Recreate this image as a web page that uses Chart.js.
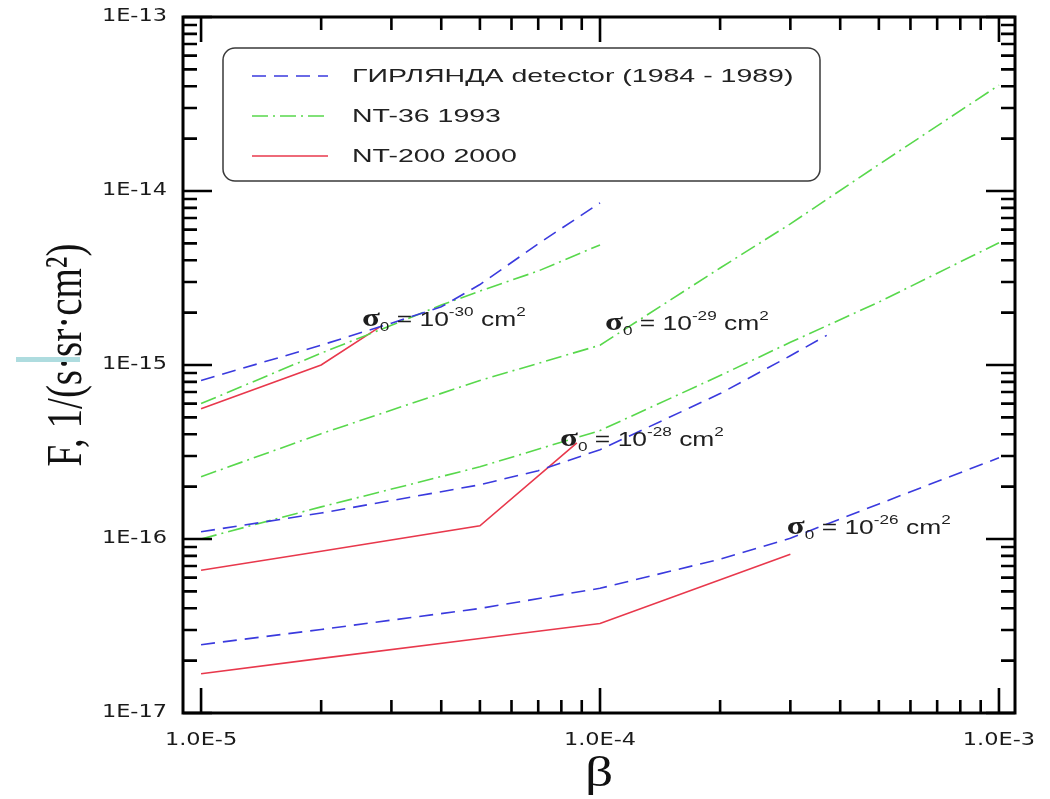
<!DOCTYPE html>
<html>
<head>
<meta charset="utf-8">
<title>F vs β</title>
<script src="https://cdn.jsdelivr.net/npm/chart.js@4.4.1/dist/chart.umd.min.js"></script>
<style>
  html, body { margin: 0; padding: 0; background: #fff; }
  #wrap { width: 1050px; height: 799px; }
</style>
</head>
<body>
<div id="wrap"><canvas id="chartFlux"></canvas></div>
<script>
// flux limits F, 1/(s·sr·cm²) vs β, one curve per detector and σ0
const garland30X = [1e-5, 2e-5, 3e-5, 4e-5, 5e-5, 7e-5, 1e-4];
const garland30Y = [8.15e-16, 1.30e-15, 1.74e-15, 2.16e-15, 2.90e-15, 4.97e-15, 8.55e-15];
const nt36_30X = [1e-5, 2e-5, 3e-5, 4e-5, 5e-5, 7e-5, 1e-4];
const nt36_30Y = [6.0e-16, 1.17e-15, 1.69e-15, 2.21e-15, 2.66e-15, 3.47e-15, 4.9e-15];
const nt200_30X = [1e-5, 2e-5, 2.8e-5];
const nt200_30Y = [5.6e-16, 1.0e-15, 1.65e-15];

const nt36_29X = [1e-5, 2e-5, 5e-5, 1e-4, 2e-4, 3e-4, 5e-4, 1e-3];
const nt36_29Y = [2.28e-16, 4.03e-16, 8.15e-16, 1.30e-15, 3.61e-15, 6.47e-15, 1.42e-14, 4.06e-14];

const garland28X = [1e-5, 2e-5, 4e-5, 5e-5, 7e-5, 1e-4, 2e-4, 3e-4, 3.7e-4];
const garland28Y = [1.10e-16, 1.41e-16, 1.87e-16, 2.05e-16, 2.47e-16, 3.26e-16, 6.85e-16, 1.13e-15, 1.48e-15];
const nt36_28X = [1e-5, 2e-5, 5e-5, 1e-4, 2e-4, 3e-4, 5e-4, 1e-3];
const nt36_28Y = [1.0e-16, 1.53e-16, 2.60e-16, 4.2e-16, 8.7e-16, 1.35e-15, 2.30e-15, 5.04e-15];
const nt200_28X = [1e-5, 2e-5, 5e-5, 8.75e-5];
const nt200_28Y = [6.62e-17, 8.5e-17, 1.19e-16, 3.57e-16];

const garland26X = [1e-5, 2e-5, 5e-5, 1e-4, 2e-4, 3e-4, 5e-4, 1e-3];
const garland26Y = [2.47e-17, 3.02e-17, 3.99e-17, 5.21e-17, 7.66e-17, 1.01e-16, 1.59e-16, 2.93e-16];
const nt200_26X = [1e-5, 2e-5, 5e-5, 1e-4, 3e-4];
const nt200_26Y = [1.68e-17, 2.06e-17, 2.68e-17, 3.27e-17, 8.18e-17];

// σ0 labels placed at (β, F)
const sigmaExp = ['-30', '-29', '-28', '-26'];
const sigmaX = [2.53e-5, 1.029e-4, 7.94e-5, 2.94e-4];
const sigmaY = [1.67e-15, 1.58e-15, 3.44e-16, 1.07e-16];

const legendLabels = ['ГИРЛЯНДА detector (1984 - 1989)', 'NT-36 1993', 'NT-200 2000'];

const xDecades = [1e-5, 1e-4, 1e-3];
const xTickLabels = ['1.0E-5', '1.0E-4', '1.0E-3'];
const yDecades = [1e-17, 1e-16, 1e-15, 1e-14, 1e-13];
const yTickLabels = ['1E-17', '1E-16', '1E-15', '1E-14', '1E-13'];

const BLUE = '#3a3ade', GREEN = '#58d84c', RED = '#e8384c';
const styles = [
    { color: BLUE, dash: [14, 8] },
    { color: GREEN, dash: [16, 5, 2, 5] },
    { color: RED, dash: [] }
];
const SX = 1.32; // text is drawn a bit wide

function pts(xs, ys) {
    return xs.map((x, i) => ({ x: x, y: ys[i] }));
}

function curve(kind, xs, ys) {
    return {
        data: pts(xs, ys),
        borderColor: styles[kind].color,
        borderDash: styles[kind].dash,
        borderWidth: 1.6,
        pointRadius: 0,
        fill: false,
        tension: 0
    };
}

function wideText(ctx, text, x, y, font, align, sx) {
    ctx.save();
    ctx.translate(x, y);
    ctx.scale(sx || SX, 1);
    ctx.font = font;
    ctx.textAlign = align || 'left';
    ctx.fillText(text, 0, 0);
    ctx.restore();
}

// frame, inward ticks, tick labels, titles
const axesPlugin = {
    id: 'axesFrame',
    afterDraw(chart) {
        const ctx = chart.ctx, a = chart.chartArea;
        const xs = chart.scales.x, ys = chart.scales.y;
        ctx.save();
        ctx.strokeStyle = '#000';
        ctx.lineWidth = 2.6;
        ctx.beginPath();
        for (let e = -6; e <= -2; e++) {
            for (let m = 1; m <= 9; m++) {
                const v = m * Math.pow(10, e);
                if (v >= xs.min && v <= xs.max) {
                    const p = xs.getPixelForValue(v);
                    const len = m === 1 ? 25 : 13;
                    ctx.moveTo(p, a.bottom); ctx.lineTo(p, a.bottom - len);
                    ctx.moveTo(p, a.top); ctx.lineTo(p, a.top + len);
                }
            }
        }
        for (let e = -18; e <= -13; e++) {
            for (let m = 1; m <= 9; m++) {
                const v = m * Math.pow(10, e);
                if (v >= ys.min * 0.999 && v <= ys.max * 1.001) {
                    const p = ys.getPixelForValue(v);
                    const len = m === 1 ? 29 : 14;
                    ctx.moveTo(a.left, p); ctx.lineTo(a.left + len, p);
                    ctx.moveTo(a.right, p); ctx.lineTo(a.right - len, p);
                }
            }
        }
        ctx.stroke();
        ctx.lineWidth = 3;
        ctx.strokeRect(a.left, a.top, a.right - a.left, a.bottom - a.top);

        ctx.fillStyle = '#1a1a1a';
        ctx.textBaseline = 'middle';
        xDecades.forEach((v, i) => {
            wideText(ctx, xTickLabels[i], xs.getPixelForValue(v), a.bottom + 28, '17px "DejaVu Sans"', 'center');
        });
        yDecades.forEach((v, i) => {
            wideText(ctx, yTickLabels[i], a.left - 16, ys.getPixelForValue(v), '17px "DejaVu Sans"', 'right');
        });

        // axis titles
        ctx.fillStyle = '#111';
        wideText(ctx, 'β', (a.left + a.right) / 2, 775, '42px "Liberation Serif"', 'center');
        ctx.save();
        ctx.translate(67, 355);
        ctx.scale(SX, 1);
        ctx.rotate(-Math.PI / 2);
        ctx.font = '39px "Liberation Serif"';
        ctx.textAlign = 'center';
        ctx.fillText('F, 1/(s·sr·cm²)', 0, 0);
        ctx.restore();

        // small marker bar beside the title
        ctx.fillStyle = '#aedcdf';
        ctx.fillRect(16, 357, 64, 5);
        ctx.restore();
    }
};

// σ0 = 10^n cm² labels
const sigmaPlugin = {
    id: 'sigmaLabels',
    afterDatasetsDraw(chart) {
        const ctx = chart.ctx, xs = chart.scales.x, ys = chart.scales.y;
        ctx.save();
        ctx.fillStyle = '#1e1e1e';
        ctx.textBaseline = 'alphabetic';
        sigmaExp.forEach((exp, i) => {
            ctx.save();
            ctx.translate(xs.getPixelForValue(sigmaX[i]), ys.getPixelForValue(sigmaY[i]));
            ctx.scale(SX, 1);
            const parts = [
                ['σ', 'bold 25px "Liberation Serif"', 0],
                ['0', '13px "Liberation Sans"', 5],
                [' = 10', '20px "Liberation Sans"', 0],
                [exp, '13px "Liberation Sans"', -10],
                [' cm', '20px "Liberation Sans"', 0],
                ['2', '13px "Liberation Sans"', -10]
            ];
            let x = 0;
            parts.forEach(p => {
                ctx.font = p[1];
                ctx.fillText(p[0], x, p[2]);
                x += ctx.measureText(p[0]).width;
            });
            ctx.restore();
        });
        ctx.restore();
    }
};

// boxed legend with rounded corners
const legendPlugin = {
    id: 'boxLegend',
    afterDraw(chart) {
        const ctx = chart.ctx;
        ctx.save();
        ctx.fillStyle = '#fff';
        ctx.strokeStyle = '#3a3a3a';
        ctx.lineWidth = 1.5;
        ctx.beginPath();
        ctx.roundRect(223, 48, 597, 133, 12);
        ctx.fill();
        ctx.stroke();
        const rowY = [76, 116, 156];
        legendLabels.forEach((lab, i) => {
            ctx.strokeStyle = styles[i].color;
            ctx.setLineDash(styles[i].dash);
            ctx.lineWidth = 1.6;
            ctx.beginPath();
            ctx.moveTo(252, rowY[i]);
            ctx.lineTo(328, rowY[i]);
            ctx.stroke();
            ctx.setLineDash([]);
            ctx.fillStyle = '#222';
            ctx.textBaseline = 'middle';
            wideText(ctx, lab, 352, rowY[i] + 1, '19px "Liberation Sans"', 'left', 1.5);
        });
        ctx.restore();
    }
};

const ctx = document.getElementById('chartFlux').getContext('2d');
const chart = new Chart(ctx, {
    type: 'line',
    data: {
        datasets: [
            curve(0, garland30X, garland30Y),
            curve(1, nt36_30X, nt36_30Y),
            curve(2, nt200_30X, nt200_30Y),
            curve(1, nt36_29X, nt36_29Y),
            curve(0, garland28X, garland28Y),
            curve(1, nt36_28X, nt36_28Y),
            curve(2, nt200_28X, nt200_28Y),
            curve(0, garland26X, garland26Y),
            curve(2, nt200_26X, nt200_26Y)
        ]
    },
    options: {
        responsive: true,
        maintainAspectRatio: false,
        animation: false,
        layout: { padding: { left: 183, right: 35, top: 17, bottom: 86 } },
        scales: {
            x: { type: 'logarithmic', display: false, min: 9.01e-6, max: 1.097e-3 },
            y: { type: 'logarithmic', display: false, min: 1e-17, max: 1e-13 }
        },
        plugins: {
            legend: { display: false },
            tooltip: { enabled: false }
        }
    },
    plugins: [axesPlugin, sigmaPlugin, legendPlugin]
});
</script>
</body>
</html>
